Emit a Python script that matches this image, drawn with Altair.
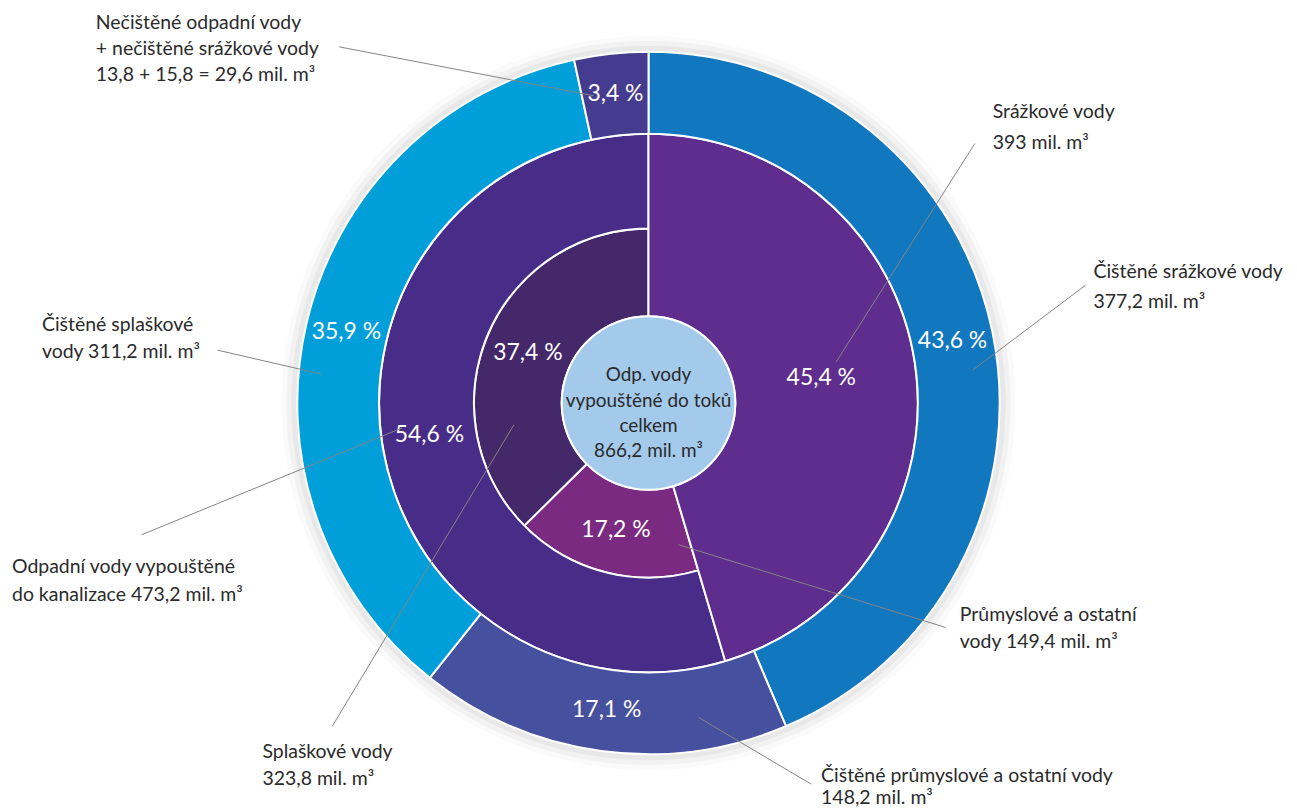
import altair as alt
import pandas as pd

# ---------------- data ----------------
outer_names = ["Čištěné srážkové vody", "Čištěné průmyslové a ostatní vody",
               "Čištěné splaškové vody", "Nečištěné odpadní + srážkové vody"]
outer_pct = [43.6, 17.1, 35.9, 3.4]
outer_text = ["43,6 %", "17,1 %", "35,9 %", "3,4 %"]

middle_names = ["Srážkové vody", "Odpadní vody vypouštěné do kanalizace"]
middle_pct = [45.4, 54.6]
middle_text = ["45,4 %", "54,6 %"]

inner_names = ["Srážkové vody", "Průmyslové a ostatní vody", "Splaškové vody"]
inner_pct = [45.4, 17.2, 37.4]
inner_text = ["45,4 %", "17,2 %", "37,4 %"]

center_lines = ["Odp. vody", "vypouštěné do toků", "celkem", "866,2 mil. m³"]

annot_texts = [
    ["Nečištěné odpadní vody", "+ nečištěné srážkové vody", "13,8 + 15,8 = 29,6 mil. m³"],
    ["Srážkové vody", "393 mil. m³"],
    ["Čištěné srážkové vody", "377,2 mil. m³"],
    ["Průmyslové a ostatní", "vody 149,4 mil. m³"],
    ["Čištěné průmyslové a ostatní vody", "148,2 mil. m³"],
    ["Splaškové vody", "323,8 mil. m³"],
    ["Odpadní vody vypouštěné", "do kanalizace 473,2 mil. m³"],
    ["Čištěné splaškové", "vody 311,2 mil. m³"],
]

# ---------------- styles / layout ----------------
FONT = "Lato"
color_domain = outer_names + ["Srážkové vody", "Odpadní vody vypouštěné do kanalizace",
                              "Průmyslové a ostatní vody", "Splaškové vody"]
color_range = ["#1177bf", "#45509e", "#009fd9", "#463c8f",
               "#5e2d8d", "#472c88", "#7a2a80", "#45286a"]

# annotation layout (chart coordinates): text x, first-line centre y, line height, leader line
annot_layout = [
    dict(x=88, y=14, lh=26, line=(332, 38, 587, 87)),
    dict(x=987, y=103, lh=31, line=(969, 135, 830, 354)),
    dict(x=1088, y=264, lh=30, line=(1080, 277, 967, 362)),
    dict(x=954, y=607, lh=28, line=(940, 620, 672, 537)),
    dict(x=815, y=769, lh=22, line=(805, 777, 692, 710)),
    dict(x=255, y=745, lh=27, line=(325, 719, 507, 417)),
    dict(x=4, y=559, lh=28, line=(134, 527, 395, 420)),
    dict(x=34, y=317, lh=27, line=(210, 342, 314, 366)),
]

rows = []
for ring, names, pcts, texts in [("outer", outer_names, outer_pct, outer_text),
                                 ("middle", middle_names, middle_pct, middle_text),
                                 ("inner", inner_names, inner_pct, inner_text)]:
    for i, (n, p, t) in enumerate(zip(names, pcts, texts)):
        rows.append({"ring": ring, "name": n, "pct": p, "text": t, "order": i})
df = pd.DataFrame(rows)

TWO_PI = 6.283185307179586
TH = alt.Scale(domain=[0, 100], range=[0, TWO_PI])

base = (
    alt.Chart(df)
    .transform_window(cum="sum(pct)", groupby=["ring"],
                      sort=[alt.SortField("order", order="ascending")])
    .transform_calculate(start="datum.cum - datum.pct",
                         mid="datum.cum - datum.pct / 2")
)

arc_enc = dict(
    theta=alt.Theta("start:Q", scale=TH),
    theta2=alt.Theta2("cum:Q"),
    color=alt.Color("name:N", scale=alt.Scale(domain=color_domain, range=color_range),
                    legend=None),
)

def arcs(flt, r_out, r_in):
    return base.transform_filter(flt).mark_arc(
        radius=r_out, radius2=r_in, stroke="white", strokeWidth=2
    ).encode(**arc_enc)

def labels(flt, r):
    return base.transform_filter(flt).mark_text(
        radius=r, font=FONT, fontSize=23, color="white"
    ).encode(theta=alt.Theta("mid:Q", scale=TH), text="text:N")

inner_f = "datum.ring == 'inner' && datum.order > 0"
middle_f = "datum.ring == 'middle' && datum.order == 1"
sraz_f = "datum.ring == 'middle' && datum.order == 0"
outer_f = "datum.ring == 'outer'"

dummy = pd.DataFrame({"k": [0]})

# soft halo standing in for the drop shadow
layers = []
for r_out, op in [(368, 0.02), (363, 0.03), (358, 0.04)]:
    layers.append(
        alt.Chart(dummy).mark_arc(radius=r_out, radius2=350, theta=0, theta2=TWO_PI,
                                  opacity=op).encode(color=alt.value("#000000"))
    )

layers += [
    arcs(inner_f, 175, 87),
    arcs(middle_f, 270, 175),
    arcs(sraz_f, 270, 87),
    arcs(outer_f, 352, 270),
]

center = alt.Chart(dummy).mark_arc(
    radius=87, theta=0, theta2=TWO_PI, stroke="white", strokeWidth=2
).encode(color=alt.value("#a3c9eb"))
center_text = alt.Chart(dummy).mark_text(
    font=FONT, fontSize=19, lineHeight=25.5, color="#2a2a2a", dy=-28
).encode(text=alt.value(center_lines))
layers += [center, center_text]

layers += [
    labels(inner_f, 131),
    labels(middle_f, 222),
    labels(sraz_f, 175),
    labels(outer_f, 311),
]

for txt, lay in zip(annot_texts, annot_layout):
    x1, y1, x2, y2 = lay["line"]
    layers.append(
        alt.Chart(dummy).mark_rule(color="#858585", strokeWidth=1).encode(
            x=alt.value(x1), y=alt.value(y1), x2=alt.value(x2), y2=alt.value(y2))
    )
    layers.append(
        alt.Chart(dummy).mark_text(
            align="left", baseline="middle", font=FONT, fontSize=19.5,
            lineHeight=lay["lh"], color="#2b2b2b"
        ).encode(x=alt.value(lay["x"]), y=alt.value(lay["y"]), text=alt.value(txt))
    )

chart = alt.layer(*layers).properties(
    width=1284, height=790,
    padding={"left": 0, "top": 0, "right": 0, "bottom": 14},
    autosize="none",
    background="white",
).configure_view(strokeWidth=0)

chart.save("out.html", embed_options={"renderer": "svg", "actions": False})
